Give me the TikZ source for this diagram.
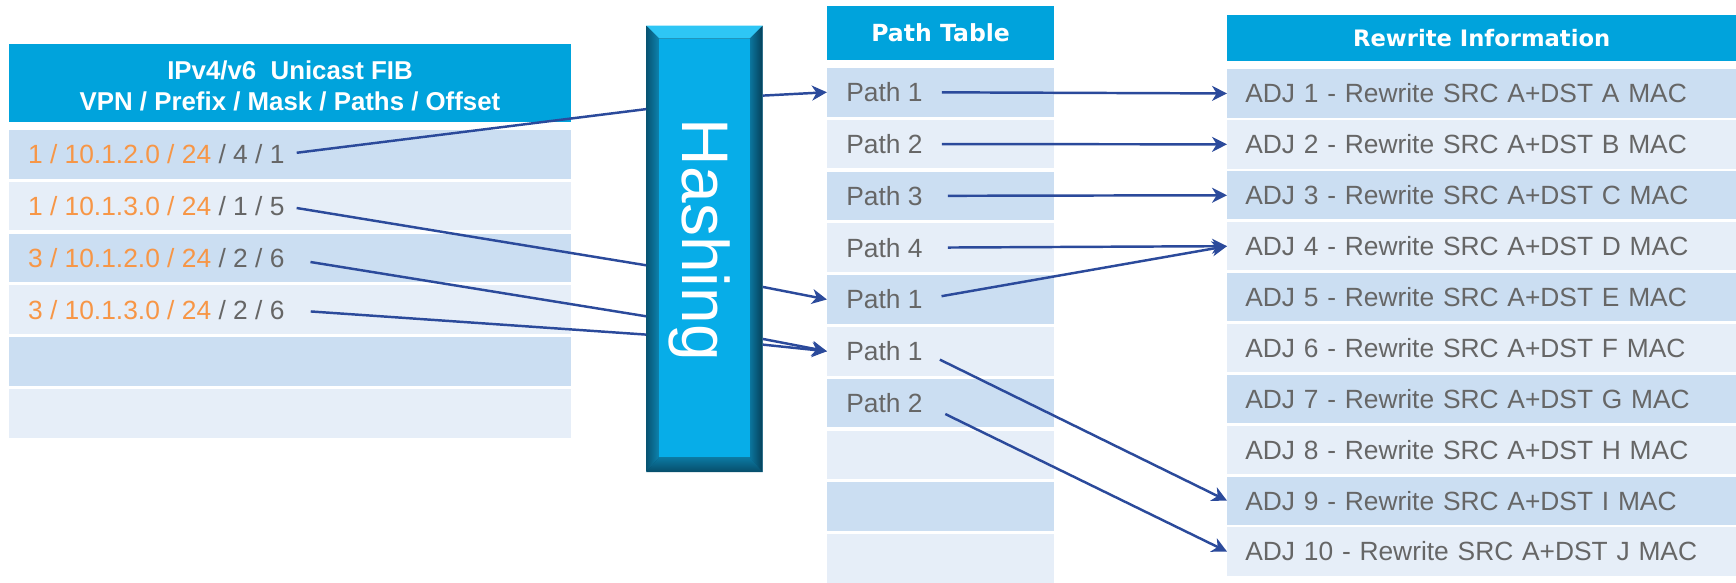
\documentclass[tikz,border=0pt]{standalone}
\usepackage{fontspec}
\setmainfont{Liberation Sans}
\newfontfamily\headfont{DejaVu Sans}
\usetikzlibrary{arrows.meta,calc}

\definecolor{headblue}{HTML}{00A3DC}
\definecolor{rowdark}{HTML}{CBDEF2}
\definecolor{rowlight}{HTML}{E6EEF8}
\definecolor{fiborange}{HTML}{F79646}
\definecolor{cellgray}{HTML}{666666}
\definecolor{linkblue}{HTML}{2B4A9B}
\definecolor{hashface}{HTML}{07ADE8}
\definecolor{hashtop}{HTML}{2EC6F5}
\definecolor{hashmid}{HTML}{0D84B0}
\definecolor{hashdeep}{HTML}{053F58}
\definecolor{hashedge}{HTML}{7FC8E4}

\tikzset{
  headbar/.style={fill=headblue, inner sep=0pt},
  rowA/.style={fill=rowdark, inner sep=0pt},
  rowB/.style={fill=rowlight, inner sep=0pt},
  celltxt/.style={text=cellgray, inner sep=0pt, anchor=west, font=\fontsize{15pt}{18pt}\selectfont},
  link/.style={draw=linkblue, line width=1.4pt},
  linkarrow/.style={link, -{Stealth[length=8.5pt, width=8.5pt, inset=2.6pt]}},
}

\begin{document}
\begin{tikzpicture}[x=0.02cm, y=-0.02cm]
\useasboundingbox (0,0) rectangle (1736,582);

% FIB table
\node[headbar, minimum width=11.24cm, minimum height=1.56cm] (fibhead) at (290,83) {};
\node[text=white, align=center, font=\bfseries\fontsize{14.7pt}{17.6pt}\selectfont] (fibtitle) at (290,86) {IPv4/v6\ \ Unicast FIB\\VPN / Prefix / Mask / Paths / Offset};

\foreach \i/\col in {1/rowA,2/rowB,3/rowA,4/rowB,5/rowA,6/rowB}
  \node[\col, minimum width=11.24cm, minimum height=0.97cm] (fib\i) at (290,{154.25+51.8*(\i-1)}) {};

\node[celltxt] (f1) at ([xshift=0.38cm]fib1.west) {\textcolor{fiborange}{1 / 10.1.2.0 / 24} / 4 / 1};
\node[celltxt] (f2) at ([xshift=0.38cm]fib2.west) {\textcolor{fiborange}{1 / 10.1.3.0 / 24} / 1 / 5};
\node[celltxt] (f3) at ([xshift=0.38cm]fib3.west) {\textcolor{fiborange}{3 / 10.1.2.0 / 24} / 2 / 6};
\node[celltxt] (f4) at ([xshift=0.38cm]fib4.west) {\textcolor{fiborange}{3 / 10.1.3.0 / 24} / 2 / 6};

% path table
\node[headbar, minimum width=4.534cm, minimum height=1.08cm, text=white, font=\headfont\bfseries\fontsize{13.4pt}{15pt}\selectfont] (pathhead) at (940.6,33) {Path Table};

\foreach \i/\col in {1/rowA,2/rowB,3/rowA,4/rowB,5/rowA,6/rowB,7/rowA,8/rowB,9/rowA,10/rowB}
  \node[\col, minimum width=4.534cm, minimum height=0.97cm] (path\i) at (940.6,{92.25+51.8*(\i-1)}) {};

\foreach \i/\n in {1/1,2/2,3/3,4/4,5/1,6/1,7/2}
  \node[celltxt] (p\i) at ([xshift=0.38cm]path\i.west) {Path \n};

% rewrite table
\node[headbar, minimum width=10.174cm, minimum height=0.914cm, text=white, font=\headfont\bfseries\fontsize{12.9pt}{15pt}\selectfont] (rwhead) at (1481.65,38.15) {Rewrite Information};

\foreach \i/\col/\m in {1/rowA/A,2/rowB/B,3/rowA/C,4/rowB/D,5/rowA/E,6/rowB/F,7/rowA/G,8/rowB/H,9/rowA/I,10/rowB/J}
  \node[\col, minimum width=10.174cm, minimum height=0.966cm, inner xsep=0.36cm, text width=9.454cm, align=left,
        text=cellgray, font=\fontsize{15pt}{18pt}\selectfont] (adj\i) at (1481.65,{93.45+50.9*(\i-1)}) {ADJ \i{} - Rewrite SRC A+DST \m{} MAC};

% hashing block
\node[minimum width=2.312cm, minimum height=8.914cm, inner sep=0pt, fill=hashdeep, draw=hashedge, line width=0.5pt] (hash) at (704.5,248.85) {};
\fill[hashtop] (hash.north west) -- (hash.north east) -- ($(hash.north east)+(-13,13)$) -- ($(hash.north west)+(13,13)$) -- cycle;
\shade[left color=hashdeep!70!hashmid, right color=hashmid] (hash.north west) -- ($(hash.north west)+(13,13)$) -- ($(hash.south west)+(13,-15)$) -- (hash.south west) -- cycle;
\shade[left color=hashmid!80!hashdeep, right color=hashdeep] (hash.north east) -- ($(hash.north east)+(-13,13)$) -- ($(hash.south east)+(-13,-15)$) -- (hash.south east) -- cycle;
\shade[top color=hashmid!85!hashdeep, bottom color=hashdeep!80!hashmid] (hash.south west) -- ($(hash.south west)+(13,-15)$) -- ($(hash.south east)+(-13,-15)$) -- (hash.south east) -- cycle;
\fill[hashface] ($(hash.north west)+(13,13)$) rectangle ($(hash.south east)+(-13,-15)$);
\node[rotate=-90, text=white, font=\fontsize{37.5pt}{42pt}\selectfont] (hashlabel) at ($(hash.center)+(-5,-9)$) {Hashing};

% FIB entries into the hash, hash out to the paths
\foreach \r/\d/\g in {1/83.5/0.24cm, 2/239.7/0.24cm, 3/290.7/0.52cm, 4/309/0.52cm}
  \draw[link, shorten <=\g] (f\r.east) -- ($(hash.north west)+(0,\d)$);

\foreach \d/\p in {70/1, 261.3/5, 313.3/6, 319/6}
  \draw[linkarrow] ($(hash.north east)+(0,\d)$) -- (path\p.west);

% paths to adjacencies
\foreach \s/\t/\g in {1/1/0.38cm, 2/2/0.38cm, 3/3/0.5cm, 4/4/0.5cm, 5/4/0.38cm, 6/9/0.38cm, 7/10/0.5cm}
  \draw[linkarrow, shorten <=\g] (p\s.east) -- (adj\t.west);
\end{tikzpicture}
\end{document}
